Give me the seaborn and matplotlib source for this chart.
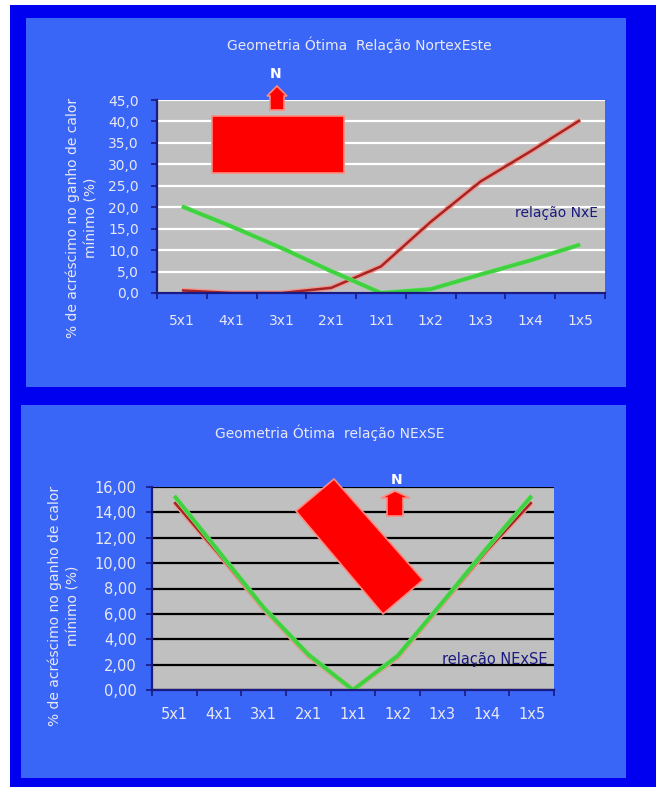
import numpy as np
import pandas as pd
import matplotlib
matplotlib.use("Agg")
import matplotlib.pyplot as plt
import matplotlib.patheffects as pe
from matplotlib.patches import Rectangle, Polygon
import seaborn as sns

# ---------------- data ----------------
categories = ["5x1", "4x1", "3x1", "2x1", "1x1", "1x2", "1x3", "1x4", "1x5"]

top_red = [0.6, 0.0, 0.0, 1.2, 6.2, 16.6, 26.0, 33.0, 40.3]
top_green = [20.2, 15.5, 10.5, 5.1, 0.0, 0.9, 4.3, 7.6, 11.3]

bot_red = [14.8, 10.7, 6.4, 2.7, 0.0, 2.6, 6.8, 11.0, 14.8]
bot_green = [15.3, 10.9, 6.5, 2.8, 0.0, 2.7, 6.9, 11.2, 15.3]

top_title = "Geometria Ótima  Relação NortexEste"
bot_title = "Geometria Ótima  relação NExSE"
ylabel = "% de acréscimo no ganho de calor\nmínimo (%)"
top_note = "relação NxE"
bot_note = "relação NExSE"

top_yticks = np.arange(0, 46, 5)
bot_yticks = np.arange(0, 17, 2)

# ---------------- style ----------------
plt.rcParams["font.family"] = ["DejaVu Sans"]
W, H = 656, 787
OUTER = "#0000f0"
PANEL = "#3a66f7"
PLOTBG = "#c0c0c0"
TXT = "#e8e8f2"
NAVY = "#1a1a80"
RED = "#a52424"
GREEN = "#40d040"

fig = plt.figure(figsize=(W / 100, H / 100), dpi=100)
fig.patch.set_facecolor("white")


def fx(x):
    return x / W


def fy(y):
    return 1 - y / H


def rect_px(x0, y0, x1, y1, color, z=-10, **kw):
    r = Rectangle((fx(x0), fy(y1)), fx(x1) - fx(x0), fy(y0) - fy(y1),
                  transform=fig.transFigure, facecolor=color, zorder=z, **kw)
    fig.add_artist(r)


def poly_px(pts, z=10):
    p = Polygon([(fx(x), fy(y)) for x, y in pts], closed=True,
                transform=fig.transFigure, facecolor="#ff0000",
                edgecolor="#ff8a80", linewidth=1.2, zorder=z)
    fig.add_artist(p)


# backgrounds
rect_px(10, 5, 656, 787, OUTER, z=-20)
rect_px(26, 18, 626, 387, PANEL, z=-15)
rect_px(21, 405, 626, 778, PANEL, z=-15)


def style_axes(ax, yticks, fmt, gridcolor, ylim, tickpad, xpad, fs):
    ax.set_facecolor(PLOTBG)
    ax.set_xlim(-0.5, len(categories) - 0.5)
    ax.set_ylim(*ylim)
    ax.set_yticks(yticks)
    ax.set_yticklabels([fmt.format(v).replace(".", ",") for v in yticks])
    ax.set_xticks(range(len(categories)))
    ax.set_xticklabels(categories)
    ax.set_xticks(np.arange(-0.5, len(categories), 1), minor=True)
    ax.tick_params(axis="x", which="major", length=0, pad=xpad,
                   labelcolor=TXT, labelsize=fs)
    ax.tick_params(axis="x", which="minor", length=4, width=1.2,
                   color=NAVY, direction="out")
    ax.tick_params(axis="y", length=4, width=1.2, color=NAVY,
                   pad=tickpad, labelcolor=TXT, labelsize=fs)
    for s in ("top", "right"):
        ax.spines[s].set_visible(False)
    for s in ("left", "bottom"):
        ax.spines[s].set_color(NAVY)
        ax.spines[s].set_linewidth(1.6)
        ax.spines[s].set_zorder(5)
    ax.yaxis.grid(True, color=gridcolor, linewidth=1.6)
    ax.set_axisbelow(True)
    ax.set_xlabel("")
    ax.set_ylabel("")


def draw_lines(ax, red, green):
    sns.lineplot(x=categories, y=red, ax=ax, color=RED, linewidth=1.8,
                 sort=False, zorder=3)
    sns.lineplot(x=categories, y=green, ax=ax, color=GREEN, linewidth=2.6,
                 sort=False, zorder=4)
    ax.lines[-2].set_path_effects([pe.Stroke(linewidth=3.8, foreground="#ee9890"),
                                   pe.Normal()])
    ax.lines[-1].set_path_effects([pe.Stroke(linewidth=3.4, foreground="#78e078"),
                                   pe.Normal()])
    for ln in ax.lines[-2:]:
        ln.set_solid_capstyle("butt")
        ln.set_solid_joinstyle("round")


# ---------------- top chart ----------------
ax1 = fig.add_axes([fx(157), fy(293), fx(605) - fx(157), fy(100) - fy(293)])
draw_lines(ax1, top_red, top_green)
style_axes(ax1, top_yticks, "{:.1f}", "white", (0, 45), 9, 15, 10)
ax1.text(0.985, 0.415, top_note, transform=ax1.transAxes, ha="right",
         va="center", color=NAVY, fontsize=10, zorder=6)
fig.text(fx(359), fy(45), top_title, ha="center", va="center", color=TXT,
         fontsize=10)
fig.text(fx(82), fy(218), ylabel, ha="center", va="center", rotation=90,
         color=TXT, fontsize=10, linespacing=1.45, multialignment="center")

# decorative building footprint + north arrow (top)
poly_px([(212, 116), (344, 116), (344, 173), (212, 173)])
poly_px([(270, 110), (270, 96), (267, 96), (277, 86), (287, 96), (284, 96),
         (284, 110)])
fig.text(fx(276), fy(74), "N", ha="center", va="center", color="white",
         fontsize=10, fontweight="bold", zorder=11)

# ---------------- bottom chart ----------------
ax2 = fig.add_axes([fx(152), fy(690), fx(554) - fx(152), fy(487) - fy(690)])
draw_lines(ax2, bot_red, bot_green)
style_axes(ax2, bot_yticks, "{:.2f}", "black", (0, 16), 7, 12, 10.5)
ax2.text(0.985, 0.148, bot_note, transform=ax2.transAxes, ha="right",
         va="center", color=NAVY, fontsize=10.5, zorder=1)
fig.text(fx(330), fy(433), bot_title, ha="center", va="center", color=TXT,
         fontsize=10)
fig.text(fx(64), fy(606), ylabel, ha="center", va="center", rotation=90,
         color=TXT, fontsize=10, linespacing=1.45, multialignment="center")

poly_px([(334, 479), (423, 580), (383, 614), (296, 511)])
poly_px([(387, 516), (387, 498), (381, 498), (395, 491), (410, 498),
         (403, 498), (403, 516)])
fig.text(fx(397), fy(480), "N", ha="center", va="center", color="white",
         fontsize=10, fontweight="bold", zorder=11)

fig.savefig("out.png", dpi=100, facecolor=fig.get_facecolor())
